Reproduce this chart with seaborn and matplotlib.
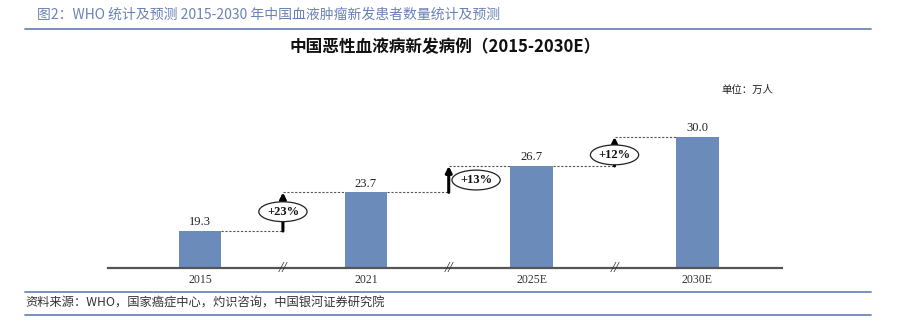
import matplotlib
matplotlib.use("Agg")
import matplotlib.pyplot as plt
import seaborn as sns
import pandas as pd
from matplotlib.lines import Line2D

# ---- data ----
categories = ["2015", "2021", "2025E", "2030E"]
values = [19.3, 23.7, 26.7, 30.0]
growth_labels = ["+23%", "+13%", "+12%"]

header_text = "图2：WHO 统计及预测 2015-2030 年中国血液肿瘤新发患者数量统计及预测"
title_text = "中国恶性血液病新发病例（2015-2030E）"
unit_text = "单位：万人"
source_text = "资料来源：WHO，国家癌症中心，灼识咨询，中国银河证券研究院"

sns.set_theme(style="white")
plt.rcParams['font.family'] = ['Noto Sans CJK SC', 'DejaVu Sans']
plt.rcParams['axes.unicode_minus'] = False

BAR = "#6b8cbb"
SERIF = ['Liberation Serif', 'Noto Sans CJK SC']

fig = plt.figure(figsize=(9.07, 3.29), dpi=100)
ax = fig.add_axes([108/907, 1-268/329, (782-108)/907, (268-100)/329])

df = pd.DataFrame({"cat": categories, "val": values})
sns.barplot(data=df, x="cat", y="val", color=BAR, width=0.255, saturation=1,
            ax=ax, edgecolor="none")

ymin, ymax = 15.1, 34.2
ax.set_ylim(ymin, ymax)
ax.set_xlim(-0.555, 3.51)

for c in ax.containers:
    ax.bar_label(c, labels=[f"{v:.1f}" for v in values], padding=2,
                 fontsize=9, family=SERIF, color="#222")

for s in ["top", "right", "left"]:
    ax.spines[s].set_visible(False)
ax.spines["bottom"].set_color("#555555")
ax.spines["bottom"].set_linewidth(1.6)
ax.set_yticks([])
ax.set_xlabel("")
ax.set_ylabel("")
ax.tick_params(axis="x", length=0, pad=4, labelsize=8.5, labelcolor="#333333")
for lab in ax.get_xticklabels():
    lab.set_family(SERIF)

hw = 0.255 / 2
# growth annotations
label_dx = [0.0, 0.165, 0.0]
label_y = [21.5, 25.1, 27.96]
for i in range(3):
    xb = i + 0.5
    lo, hi = values[i], values[i + 1]
    ax.plot([i + hw, xb], [lo, lo], color="#555555", lw=0.8, ls=(0, (2, 1.5)))
    ax.plot([xb, i + 1 - hw], [hi, hi], color="#555555", lw=0.8, ls=(0, (2, 1.5)))
    ax.annotate("", xy=(xb, hi), xytext=(xb, lo),
                arrowprops=dict(arrowstyle="-|>", lw=2.2, color="black",
                                mutation_scale=9, shrinkA=0, shrinkB=0))
    ax.text(xb + label_dx[i], label_y[i], growth_labels[i], ha="center", va="center",
            fontsize=9, family=SERIF, fontweight="bold", color="#111",
            bbox=dict(boxstyle="ellipse,pad=0.08", fc="white", ec="#222", lw=0.9))
    # axis break marks
    ax.text(xb, ymin, "//", ha="center", va="center", fontsize=11,
            family=SERIF, style="italic", color="#333", clip_on=False)

# figure texts and rules
fig.text(37/907, 1-15/329, header_text, ha="left", va="center", fontsize=10,
         color="#6a82b6")
fig.add_artist(Line2D([25/907, 871/907], [1-29/329, 1-29/329], color="#6f86bd", lw=1.3))
fig.text(445/907, 1-47/329, title_text, ha="center", va="center", fontsize=12,
         fontweight="bold", color="#111")
fig.text(773/907, 1-90/329, unit_text, ha="right", va="center", fontsize=7.5,
         color="#222")
fig.add_artist(Line2D([25/907, 871/907], [1-292/329, 1-292/329], color="#6f86bd", lw=1.3))
fig.add_artist(Line2D([25/907, 871/907], [1-315/329, 1-315/329], color="#6f86bd", lw=1.3))
fig.text(25/907, 1-303/329, source_text, ha="left", va="center", fontsize=8.8,
         color="#333", style="italic")

fig.savefig("out.png", dpi=100)
